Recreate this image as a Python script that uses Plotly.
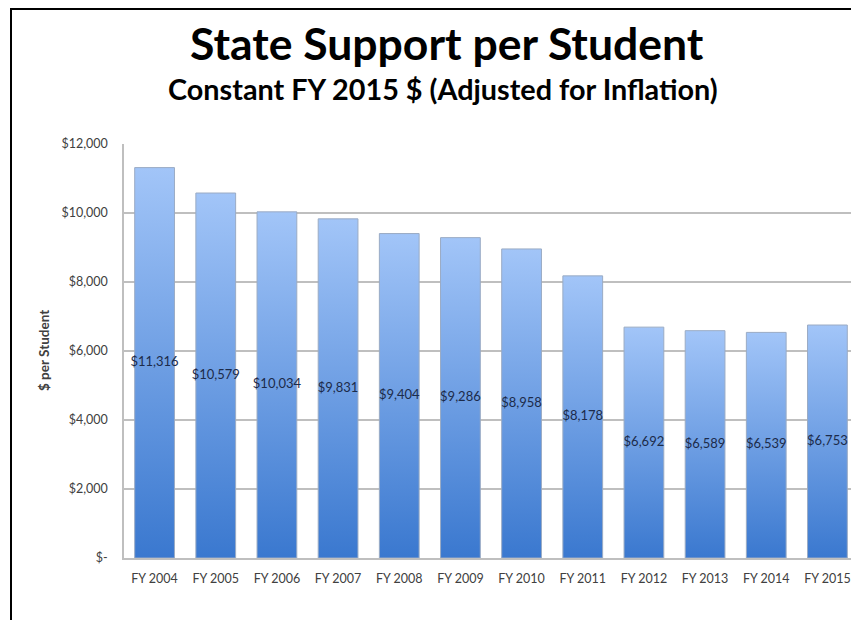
import plotly.graph_objects as go

categories = ["FY 2004", "FY 2005", "FY 2006", "FY 2007", "FY 2008", "FY 2009",
              "FY 2010", "FY 2011", "FY 2012", "FY 2013", "FY 2014", "FY 2015"]
values = [11316, 10579, 10034, 9831, 9404, 9286, 8958, 8178, 6692, 6589, 6539, 6753]
y_tickvals = [0, 2000, 4000, 6000, 8000, 10000, 12000]
y_ticktext = ["$-", "$2,000", "$4,000", "$6,000", "$8,000", "$10,000", "$12,000"]

BAR_W = 0.65
FONT = "Lato"

# page body has an 8px margin; the figure is sized/offset to compensate
W, H = 851, 612
L, T, R, B = 116, 136, 1, 62
PH = H - T - B  # plot height in px
PW = W - L - R


def py(y_fig):
    return 1 + (T - y_fig) / PH


def px(x_fig):
    return (x_fig - L) / PW


fig = go.Figure()

for i, v in enumerate(values):
    x0, x1 = i - BAR_W / 2, i + BAR_W / 2
    fig.add_trace(go.Scatter(
        x=[x0, x1, x1, x0, x0], y=[0, 0, v, v, 0],
        mode="lines", fill="toself",
        line=dict(color="#9aabc4", width=1),
        fillgradient=dict(type="vertical",
                          colorscale=[[0, "#3a78cf"], [1, "#a2c5f8"]]),
        hoverinfo="skip", showlegend=False,
    ))

fig.add_trace(go.Scatter(
    x=list(range(len(values))), y=[v / 2 for v in values],
    mode="text", text=[f"${v:,}" for v in values],
    textfont=dict(family=FONT, size=13, color="#1c2b4a"),
    showlegend=False, hoverinfo="skip",
))

frame_path = (f"M {px(3)},{py(H + 20)} L {px(3)},{py(1)} L {px(W + 40)},{py(1)}")

fig.update_layout(
    width=W, height=H,
    margin=dict(l=L, r=R, t=T, b=B),
    paper_bgcolor="white", plot_bgcolor="white",
    font=dict(family=FONT, color="#404040"),
    xaxis=dict(
        range=[-0.5, len(values) - 0.5],
        tickvals=list(range(len(values))), ticktext=categories,
        showgrid=False, zeroline=False,
        showline=True, linecolor="#bfbfbf", linewidth=1.5,
        ticks="outside", ticklen=8, tickcolor="rgba(0,0,0,0)",
        tickfont=dict(size=12.5, color="#404040", family=FONT),
    ),
    yaxis=dict(
        range=[0, 12000],
        tickvals=y_tickvals, ticktext=y_ticktext,
        showgrid=True, gridcolor="#bfbfbf", gridwidth=1.5,
        zeroline=False, showline=True, linecolor="#bfbfbf", linewidth=1.5,
        ticks="outside", ticklen=12, tickcolor="rgba(0,0,0,0)",
        tickfont=dict(size=12.5, color="#404040", family=FONT),
    ),
    annotations=[
        dict(text="<b>State Support per Student</b>", xref="paper", yref="paper",
             x=px(439), y=py(34), xanchor="center", yanchor="middle",
             showarrow=False, font=dict(family=FONT, size=44.5, color="#000000")),
        dict(text="<b>Constant FY 2015 $ (Adjusted for Inflation)</b>", xref="paper", yref="paper",
             x=px(435), y=py(81), xanchor="center", yanchor="middle",
             showarrow=False, font=dict(family=FONT, size=28.8, color="#000000")),
        dict(text="<b>$ per Student</b>", xref="paper", yref="paper",
             x=px(36), y=0.5, xanchor="center", yanchor="middle", textangle=-90,
             showarrow=False, font=dict(family=FONT, size=13.5, color="#404040")),
    ],
    shapes=[
        dict(type="path", xref="paper", yref="paper", path=frame_path,
             line=dict(color="black", width=2), layer="below"),
    ],
)

fig.write_html("out.html")
